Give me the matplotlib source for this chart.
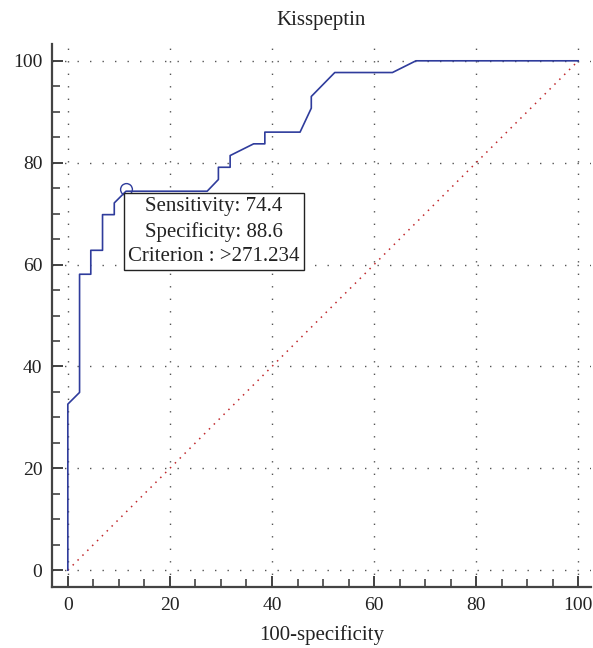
"""ROC curve for kisspeptin"""
import matplotlib
matplotlib.use('Agg')
import matplotlib.pyplot as plt
from matplotlib.ticker import MultipleLocator

# ROC curve points (100-specificity, sensitivity), percent
fpr = [0, 0, 2.3, 2.3, 4.5, 4.5, 6.8, 6.8, 9.1, 9.1, 11.4, 27.3, 29.5, 29.5,
       31.8, 31.8, 36.4, 38.6, 38.6, 45.5, 47.7, 47.7, 52.3, 63.6, 68.2, 100]
tpr = [0, 32.6, 34.9, 58.1, 58.1, 62.8, 62.8, 69.8, 69.8, 72.1, 74.4, 74.4,
       76.7, 79.1, 79.1, 81.4, 83.7, 83.7, 86.0, 86.0, 90.7, 93.0, 97.7,
       97.7, 100, 100]
ref_line = [0, 100]

# optimal cut-off
cut_x = 11.4
cut_y = 74.4
cut_label = 'Sensitivity: 74.4\nSpecificity: 88.6\nCriterion : >271.234'

title = 'Kisspeptin'
xlabel = '100-specificity'
ticks = [0, 20, 40, 60, 80, 100]

plt.rcParams['font.family'] = ['Liberation Serif', 'DejaVu Serif']

fig = plt.figure(figsize=(5.93, 6.48), dpi=100)
ax = fig.add_axes([52 / 593, 1 - 587 / 648, (591 - 52) / 593, (587 - 44) / 648])

ax.plot(ref_line, ref_line, color='#c0282c', linestyle=(0, (1, 3.5)),
        linewidth=1.1, zorder=2)
ax.plot(fpr, tpr, color='#2f3c9c', linewidth=1.2, zorder=3)
ax.plot([cut_x], [cut_y + 0.5], marker='o', markersize=8.5,
        markerfacecolor='none', markeredgecolor='#2f3c9c',
        markeredgewidth=1.0, zorder=4)
ax.annotate(cut_label, xy=(cut_x, cut_y), xytext=(cut_x + 0.45, cut_y - 1.2),
            ha='left', va='top', multialignment='center', fontsize=15,
            color='#222222', linespacing=1.36, zorder=5,
            bbox=dict(boxstyle='square,pad=0.2', facecolor='white',
                      edgecolor='#222222', linewidth=1.0))

ax.set_xlim(-3.1, 102.5)
ax.set_ylim(-3.3, 103.3)
ax.set_xticks(ticks)
ax.set_yticks(ticks)
ax.xaxis.set_minor_locator(MultipleLocator(5))
ax.yaxis.set_minor_locator(MultipleLocator(5))
ax.tick_params(which='both', direction='in', colors='#333333', labelsize=14,
               labelcolor='#222222', pad=7)
ax.tick_params(which='major', length=8, width=1.3)
ax.tick_params(which='minor', length=5.5, width=1.1)

for side in ('top', 'right'):
    ax.spines[side].set_visible(False)
for side in ('left', 'bottom'):
    ax.spines[side].set_linewidth(1.6)
    ax.spines[side].set_color('#444444')

ax.grid(True, which='major', color='#555555', linestyle=(0, (1, 8)),
        linewidth=1.0)
ax.set_axisbelow(True)

ax.set_title(title, fontsize=15, color='#222222', pad=14)
ax.set_xlabel(xlabel, fontsize=15, color='#222222', labelpad=8)

fig.savefig('out.png', dpi=100)
